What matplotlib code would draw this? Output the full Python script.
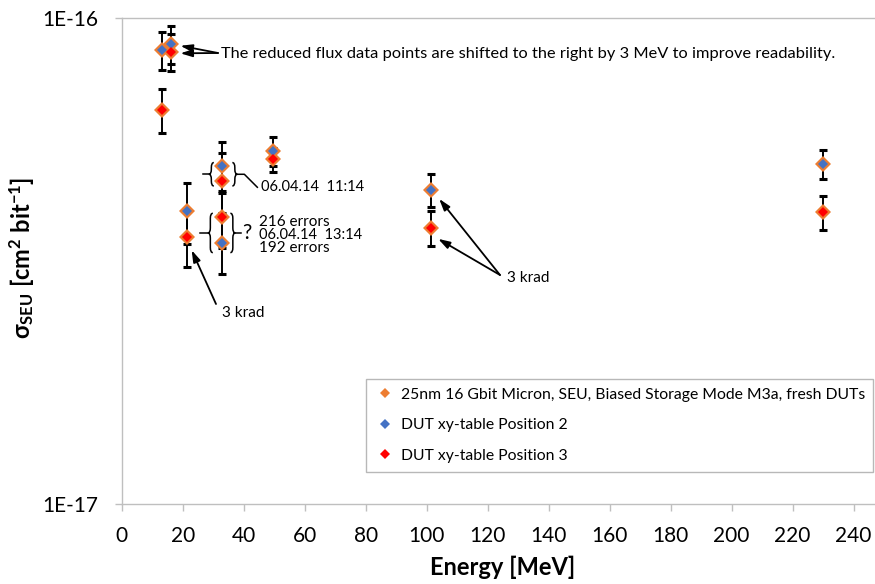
import matplotlib
matplotlib.use("Agg")
import matplotlib.pyplot as plt
from matplotlib.path import Path
from matplotlib.patches import PathPatch
from matplotlib.lines import Line2D
from matplotlib.transforms import offset_copy, IdentityTransform
from matplotlib.ticker import NullLocator

plt.rcParams["font.family"] = ["Lato", "DejaVu Sans"]
plt.rcParams["mathtext.fontset"] = "custom"
plt.rcParams["mathtext.rm"] = "Lato"
plt.rcParams["mathtext.bf"] = "Lato:bold"
plt.rcParams["mathtext.it"] = "Lato:italic"

# ---- data (cross sections in units of 1e-16 cm^2/bit) ----
SCALE = 1e-16
energy_pos2 = [13.3, 16.3, 21.3, 33.0, 33.0, 49.5, 101.3, 230.0]
sigma_pos2 = [0.859, 0.883, 0.400, 0.497, 0.345, 0.533, 0.443, 0.500]
err_pos2 = [0.078, 0.080, 0.057, 0.060, 0.047, 0.037, 0.035, 0.034]

energy_pos3 = [13.3, 16.3, 21.3, 33.0, 33.0, 49.5, 101.3, 230.0]
sigma_pos3 = [0.647, 0.852, 0.354, 0.462, 0.389, 0.512, 0.370, 0.399]
err_pos3 = [0.067, 0.075, 0.047, 0.065, 0.052, 0.029, 0.030, 0.032]

x_ticks = [0, 20, 40, 60, 80, 100, 120, 140, 160, 180, 200, 220, 240]
y_ticks = [1e-17, 1e-16]
y_tick_labels = ["1E-17", "1E-16"]

label_all = "25nm 16 Gbit Micron, SEU, Biased Storage Mode M3a, fresh DUTs"
label_pos2 = "DUT xy-table Position 2"
label_pos3 = "DUT xy-table Position 3"

ORANGE = "#ED7D31"
BLUE = "#4472C4"
RED = "#FF0000"
GRAY = "#BFBFBF"

W, H = 875, 584
fig = plt.figure(figsize=(W / 100, H / 100), dpi=100)
ax = fig.add_axes([121.7 / W, 1 - 504 / H, (W - 121.7) / W, (504 - 18) / H])
ax.set_yscale("log")
ax.set_xlim(0, 247)
ax.set_ylim(1e-17, 1e-16)

s2 = [v * SCALE for v in sigma_pos2]
s3 = [v * SCALE for v in sigma_pos3]
e2 = [v * SCALE for v in err_pos2]
e3 = [v * SCALE for v in err_pos3]

# error bars
for xs, ys, es in ((energy_pos2, s2, e2), (energy_pos3, s3, e3)):
    ax.errorbar(xs, ys, yerr=es, fmt="none", ecolor="black", elinewidth=1.4,
                capsize=3.2, capthick=2.2, zorder=2)

# all points (orange), then the two table positions on top
ax.plot(energy_pos2 + energy_pos3, s2 + s3, ls="none", marker="D", ms=8.0,
        mew=0, color=ORANGE, zorder=3)
ax.plot(energy_pos2, s2, ls="none", marker="D", ms=5.1, mew=0, color=BLUE, zorder=4)
ax.plot(energy_pos3, s3, ls="none", marker="D", ms=5.1, mew=0, color=RED, zorder=5)

# axes styling
ax.set_xticks(x_ticks)
ax.set_yticks(y_ticks)
ax.set_yticklabels(y_tick_labels)
ax.yaxis.set_minor_locator(NullLocator())
for side in ("top", "right"):
    ax.spines[side].set_visible(False)
for side in ("left", "bottom"):
    ax.spines[side].set_color(GRAY)
    ax.spines[side].set_linewidth(1.0)
ax.axhline(1e-16, color=GRAY, lw=1.0, clip_on=False, zorder=1)
ax.tick_params(axis="both", direction="out", length=5, width=1, color=GRAY,
               labelsize=15, labelcolor="black")
ax.tick_params(axis="x", pad=11)
ax.tick_params(axis="y", pad=12)

fig.text(503 / W, 1 - 567 / H, "Energy [MeV]", ha="center", va="center",
         fontsize=17, fontweight="bold")
fig.text(22 / W, 1 - 258 / H,
         r"$\mathbf{\sigma_{SEU}}$ [cm$^{\mathbf{2}}$ bit$^{\mathbf{-1}}$]",
         rotation=90, ha="center", va="center", fontsize=17, fontweight="bold")

# legend
handles = [Line2D([], [], ls="none", marker="D", ms=5.2, mew=0, color=c)
           for c in (ORANGE, BLUE, RED)]
leg = fig.legend(handles, [label_all, label_pos2, label_pos3],
                 loc="upper left", bbox_to_anchor=(366 / W, 1 - 379 / H),
                 bbox_transform=fig.transFigure, fontsize=11.3, frameon=True,
                 fancybox=False, edgecolor="#A6A6A6", borderpad=0.55,
                 labelspacing=1.06, handlelength=1.3, handletextpad=0.35,
                 borderaxespad=0)
leg.get_frame().set_linewidth(1.0)


# ---- annotations ----
def disp(x, y):
    return ax.transData.transform((x, y))


def fig_px(x_img, y_img):
    return (x_img, H - y_img)


def brace(x_tip, x_end, y_top, y_bot, lw=1.1):
    xm = (x_tip + x_end) / 2
    ymid = (y_top + y_bot) / 2
    r = min(abs(x_end - x_tip), (y_top - y_bot) / 4)
    verts = [(x_end, y_top), (xm, y_top), (xm, y_top - r),
             (xm, ymid + r), (xm, ymid), (x_tip, ymid),
             (xm, ymid), (xm, ymid - r),
             (xm, y_bot + r), (xm, y_bot), (x_end, y_bot)]
    codes = [Path.MOVETO, Path.CURVE3, Path.CURVE3,
             Path.LINETO, Path.CURVE3, Path.CURVE3,
             Path.CURVE3, Path.CURVE3,
             Path.LINETO, Path.CURVE3, Path.CURVE3]
    fig.add_artist(PathPatch(Path(verts, codes), fc="none", ec="black", lw=lw,
                             transform=IdentityTransform()))


def seg(points, lw=1.1):
    xs, ys = zip(*points)
    fig.add_artist(Line2D(xs, ys, color="black", lw=lw, transform=IdentityTransform()))


arrow_props = dict(arrowstyle="-|>,head_length=0.7,head_width=0.22", color="black",
                   lw=1.3, shrinkA=0, shrinkB=0)


def arrow_to(x, y, dx, dy, tail_img):
    ax.annotate("", xy=(x, y), xycoords=offset_copy(ax.transData, fig=fig, x=dx, y=dy, units="dots"),
                xytext=fig_px(*tail_img), textcoords="figure pixels",
                arrowprops=arrow_props, annotation_clip=False)


TXT = 11
# reduced flux note
fig.text(221 / W, 1 - 54 / H,
         "The reduced flux data points are shifted to the right by 3 MeV to improve readability.",
         ha="left", va="center", fontsize=11.8)
arrow_to(energy_pos2[1], s2[1], 9, -1.5, (218, 53))
arrow_to(energy_pos3[1], s3[1], 9, -1.5, (218, 53))

# 3 krad notes
fig.text(222 / W, 1 - 313 / H, "3 krad", ha="left", va="center", fontsize=TXT)
arrow_to(energy_pos3[2], s3[2], 5, -13, (216, 304))
fig.text(507 / W, 1 - 278 / H, "3 krad", ha="left", va="center", fontsize=TXT)
arrow_to(energy_pos2[6], s2[6], 8.5, -9, (500, 275))
arrow_to(energy_pos3[6], s3[6], 7.5, -11, (500, 275))

# 11:14 run at 33 MeV
bx, by = disp(energy_pos2[3], s2[3])
rx, ry = disp(energy_pos3[3], s3[3])
top, bot = by + 3, ry - 5
mid = (top + bot) / 2
brace(bx - 13.5, bx - 8.5, top, bot)
brace(bx + 15, bx + 10, top, bot)
seg([(bx - 19, mid), (bx - 13.5, mid)])
seg([(bx + 15, mid), (bx + 22, mid), (bx + 35, mid - 13)])
fig.text((bx + 38.5) / W, (mid - 13) / H, "06.04.14  11:14", ha="left", va="center",
         fontsize=10.5)

# 13:14 run at 33 MeV
rx, ry = disp(energy_pos3[4], s3[4])
bx, by = disp(energy_pos2[4], s2[4])
top, bot = ry + 4, by - 10
mid = (top + bot) / 2
brace(rx - 14.5, rx - 9.5, top, bot)
brace(rx + 13, rx + 8, top, bot)
seg([(rx - 22, mid), (rx - 14.5, mid)])
seg([(rx + 13, mid), (rx + 18.5, mid)])
fig.text((rx + 24.5) / W, mid / H, "?", ha="center", va="center", fontsize=15)
fig.text((rx + 36.5) / W, (mid + 11) / H, "216 errors", ha="left", va="center", fontsize=TXT)
fig.text((rx + 36.5) / W, (mid - 2) / H, "06.04.14  13:14", ha="left", va="center", fontsize=10.5)
fig.text((rx + 36.5) / W, (mid - 15) / H, "192 errors", ha="left", va="center", fontsize=TXT)

fig.savefig("out.png", dpi=100)
